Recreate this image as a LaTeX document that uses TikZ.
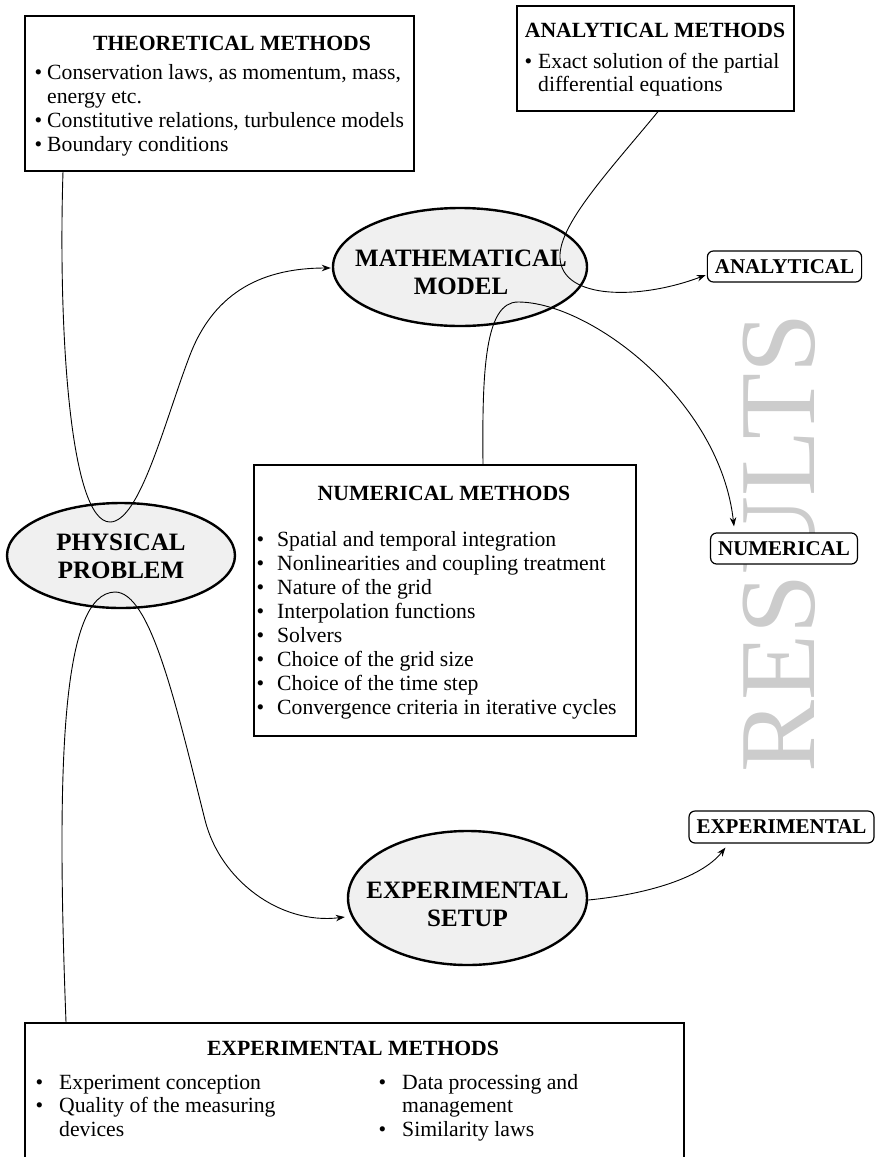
\documentclass[tikz,border=0pt]{standalone}
\usepackage{fontspec}
\setmainfont{Liberation Serif}
\usetikzlibrary{arrows.meta,shapes.geometric,calc}

% bullet of fixed width followed by the item text
\newcommand{\bulletin}[1]{\makebox[#1][l]{\textbullet}}

\begin{document}
\begin{tikzpicture}[x=1pt,y=-1pt,
  frame/.style={draw, line width=1.6pt, inner sep=0pt, anchor=north west},
  heading/.style={font=\fontsize{21.7}{24}\selectfont\bfseries, anchor=base, inner sep=0pt},
  % multi-line text: the base anchor sits on the baseline of the last line
  body/.style={font=\fontsize{21.7}{24}\selectfont, align=left, anchor=base west, inner sep=0pt},
  stage/.style={ellipse, draw, line width=2.4pt, fill=black!6, inner sep=0pt},
  stagetext/.style={align=center, inner sep=0pt, font=\fontsize{25}{28}\selectfont\bfseries},
  result/.style={draw, line width=1.2pt, rounded corners=6pt, fill=white, minimum height=31pt,
    inner xsep=7.5pt, inner ysep=0pt, font=\fontsize{21}{24}\selectfont\bfseries},
  conn/.style={line width=0.9pt, -{Stealth[length=9pt,width=6.5pt]}}
]
\useasboundingbox (0,0) rectangle (878,1157);
\clip (0,0) rectangle (878,1157);

% large watermark behind the result labels
\node[rotate=90, text=black!20, font=\fontsize{108}{108}\selectfont, inner sep=0pt] (res) at (779,543) {RESULTS};

% method boxes
\node[frame, minimum width=389pt, minimum height=155pt] (theo) at (24,15) {};
\node[heading] (theo-title) at (232,50.5) {THEORETICAL METHODS};
\node[body] (theo-body) at (34.3,151) {%
  \bulletin{12.7pt}Conservation laws, as momentum, mass,\\
  \hspace*{12.7pt}energy etc.\\
  \bulletin{12.7pt}Constitutive relations, turbulence models\\
  \bulletin{12.7pt}Boundary conditions};

\node[frame, minimum width=277pt, minimum height=105pt] (anm) at (516,5) {};
\node[heading] (anm-title) at (655,37) {ANALYTICAL METHODS};
\node[body, font=\fontsize{21.7}{23}\selectfont] (anm-body) at (524.3,91) {%
  \bulletin{13.7pt}Exact solution of the partial\\
  \hspace*{13.7pt}differential equations};

\node[frame, minimum width=382pt, minimum height=271pt] (num) at (253,464) {};
\node[heading] (num-title) at (444,500) {NUMERICAL METHODS};
\node[body] (num-body) at (256.3,714) {%
  \bulletin{20.7pt}Spatial and temporal integration\\
  \bulletin{20.7pt}Nonlinearities and coupling treatment\\
  \bulletin{20.7pt}Nature of the grid\\
  \bulletin{20.7pt}Interpolation functions\\
  \bulletin{20.7pt}Solvers\\
  \bulletin{20.7pt}Choice of the grid size\\
  \bulletin{20.7pt}Choice of the time step\\
  \bulletin{20.7pt}Convergence criteria in iterative cycles};

\node[frame, minimum width=659pt, minimum height=170pt] (exm) at (24,1022) {};
\node[heading] (exm-title) at (353,1055) {EXPERIMENTAL METHODS};
\node[body, font=\fontsize{21.7}{23.5}\selectfont] (exm-left) at (35.3,1136) {%
  \bulletin{23.7pt}Experiment conception\\
  \bulletin{23.7pt}Quality of the measuring\\
  \hspace*{23.7pt}devices};
\node[body, font=\fontsize{21.7}{23.5}\selectfont] (exm-right) at (378.3,1136) {%
  \bulletin{23.7pt}Data processing and\\
  \hspace*{23.7pt}management\\
  \bulletin{23.7pt}Similarity laws};

% stages
\node[stage, minimum width=228pt, minimum height=105pt] (pp) at (121,555.5) {};
\node[stagetext] (pp-text) at (121,556.5) {PHYSICAL\\PROBLEM};
\node[stage, minimum width=254pt, minimum height=118pt] (mm) at (460,267) {};
\node[stagetext] (mm-text) at (461,272.5) {MATHEMATICAL\\MODEL};
\node[stage, minimum width=239pt, minimum height=134pt] (es) at (467.5,898) {};
\node[stagetext] (es-text) at (467.5,904) {EXPERIMENTAL\\SETUP};

% result labels
\node[result] (ana) at (784.5,266.5) {ANALYTICAL};
\node[result] (numr) at (784,548.5) {NUMERICAL};
\node[result, minimum height=32pt] (exr) at (781.5,827) {EXPERIMENTAL};

% connectors
\draw[conn] ($(theo.south west)+(39,0)$)
  .. controls (58,330) and (70,522) .. (110,522)
  .. controls (140,522) and (165,420) .. (190,355)
  .. controls (215,290) and (265,268) .. ($(mm.west)+(-1,1)$);

\draw[conn] ($(anm.south west)+(142,0)$)
  .. controls (610,170) and (558,225) .. (560,258)
  .. controls (562,300) and (640,300) .. ($(ana.west)+(-1,8.5)$);

\draw[conn] ($(num.north west)+(230,0)$)
  .. controls (482,370) and (485,302) .. (518,302)
  .. controls (590,302) and (720,400) .. ($(numr.north west)+(24,-6)$);

\draw[conn] ($(exm.north west)+(42,0)$)
  .. controls (56,760) and (62,593) .. (115,592)
  .. controls (150,592) and (175,700) .. (205,820)
  .. controls (220,880) and (280,925) .. ($(es.west)+(-2,19)$);

\draw[conn] ($(es.east)+(0,2)$)
  .. controls (640,895) and (700,880) .. ($(exr.south west)+(37,4)$);
\end{tikzpicture}
\end{document}
